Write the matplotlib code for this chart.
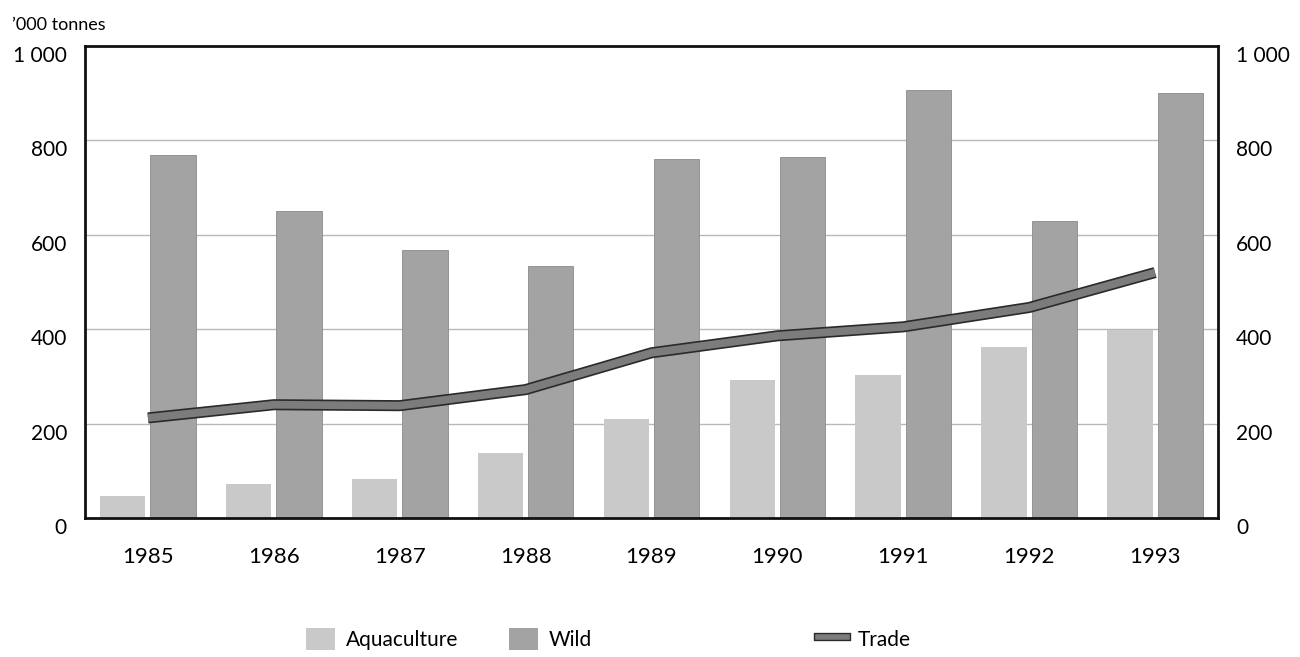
import numpy as np
import matplotlib
matplotlib.use("Agg")
import matplotlib.pyplot as plt
import matplotlib.patheffects as pe
from matplotlib.patches import Patch
from matplotlib.lines import Line2D

# data ('000 tonnes)
years = ["1985", "1986", "1987", "1988", "1989", "1990", "1991", "1992", "1993"]
aquaculture = [47, 72, 83, 137, 210, 293, 304, 363, 399]
wild = [770, 650, 567, 533, 760, 765, 906, 630, 900]
trade = [212, 240, 238, 272, 350, 386, 405, 446, 520]
yticks = [0, 200, 400, 600, 800, 1000]
ytick_labels = ["0", "200", "400", "600", "800", "1 000"]

plt.rcParams['font.family'] = ['Lato', 'DejaVu Sans']

AQUA = "#c9c9c9"
WILD = "#a3a3a3"
TRADE = "#7c7c7c"

fig = plt.figure(figsize=(13, 6.57), dpi=100)
ax = fig.add_axes([85 / 1300, 1 - 518 / 657, (1218 - 85) / 1300, (518 - 46) / 657])

x = np.arange(len(years))
w = 0.36
ax.bar(x - 0.2, aquaculture, width=w, color=AQUA, zorder=2)
ax.bar(x + 0.2, wild, width=w, color=WILD, edgecolor="#8a8a8a", linewidth=0.6, zorder=2)
ax.plot(x, trade, color=TRADE, linewidth=5.6, solid_capstyle="butt", zorder=3,
        path_effects=[pe.Stroke(linewidth=8.0, foreground="#2a2a2a"), pe.Normal()])

ax.set_xlim(-0.5, 8.5)
ax.set_ylim(0, 1000)
ax.set_xticks(x)
ax.set_xticklabels(years, fontsize=16)
ax.set_yticks(yticks)
ax.set_yticklabels(ytick_labels, fontsize=15)
ax.tick_params(axis="both", length=0)
ax.tick_params(axis="x", pad=21)
ax.tick_params(axis="y", pad=13)
ax.tick_params(axis="y", which="both", right=True, labelright=True)

# labels sit just below the gridlines in the original
for t in ax.yaxis.get_major_ticks():
    t.label1.set_verticalalignment("top")
    t.label2.set_verticalalignment("top")

for v in [200, 400, 600, 800]:
    ax.axhline(v, color="#b8b8b8", linewidth=1.0, zorder=1)

for s in ax.spines.values():
    s.set_linewidth(2.0)
    s.set_color("#111111")

fig.text(12 / 1300, 1 - 25 / 657, "\u2019000 tonnes", fontsize=13, va="center", ha="left")

# legend, one entry per box so the spacing matches
entries = [
    (Patch(facecolor=AQUA, edgecolor="none"), "Aquaculture", 306),
    (Patch(facecolor=WILD, edgecolor="none"), "Wild", 509),
    (Line2D([0], [0], color=TRADE, linewidth=4,
            path_effects=[pe.Stroke(linewidth=6, foreground="#2a2a2a"), pe.Normal()]), "Trade", 818),
]
for h, lab, px in entries:
    fig.legend([h], [lab], loc="center left", bbox_to_anchor=(px / 1300, 1 - 639 / 657),
               frameon=False, fontsize=15, handlelength=1.4, handleheight=1.3,
               handletextpad=0.5, borderpad=0, borderaxespad=0)

fig.savefig("out.png", dpi=100)
